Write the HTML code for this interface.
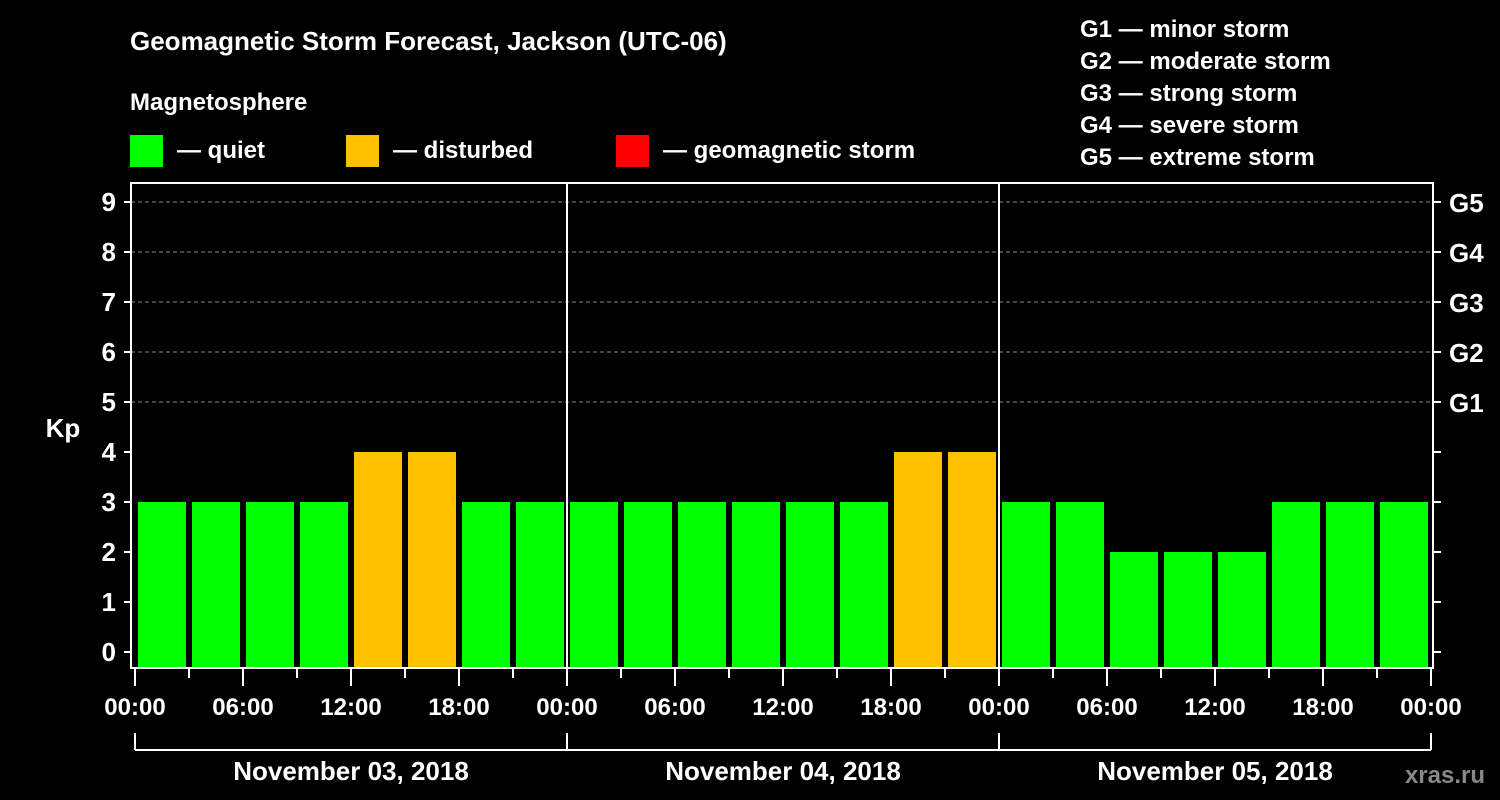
<!DOCTYPE html>
<html><head><meta charset="utf-8"><style>
body{margin:0;background:#000;width:1500px;height:800px;overflow:hidden}
svg{display:block;font-family:"Liberation Sans",Arial,sans-serif;font-weight:bold}
</style></head><body>
<svg id="c" width="1500" height="800" viewBox="0 0 1500 800">
<text x="130" y="50" fill="#fff" font-size="26">Geomagnetic Storm Forecast, Jackson (UTC-06)</text>
<text x="130" y="110" fill="#fff" font-size="24">Magnetosphere</text>
<rect x="130" y="135" width="33" height="32" fill="#00ff00"/>
<text x="177" y="158" fill="#fff" font-size="24">— quiet</text>
<rect x="346" y="135" width="33" height="32" fill="#ffc000"/>
<text x="393" y="158" fill="#fff" font-size="24">— disturbed</text>
<rect x="616" y="135" width="33" height="32" fill="#ff0000"/>
<text x="663" y="158" fill="#fff" font-size="24">— geomagnetic storm</text>
<g fill="#fff" font-size="24">
<text x="1080" y="37">G1 — minor storm</text>
<text x="1080" y="69">G2 — moderate storm</text>
<text x="1080" y="101">G3 — strong storm</text>
<text x="1080" y="133">G4 — severe storm</text>
<text x="1080" y="165">G5 — extreme storm</text>
</g>
<text x="63" y="437" fill="#fff" font-size="26" text-anchor="middle">Kp</text>
<text x="1485" y="783" fill="#888" font-size="24" text-anchor="end">xras.ru</text>
<g id="grid"></g><g id="bars"></g><g id="axes"></g>
</svg>
<script>
const kpValues=[3,3,3,3,4,4,3,3, 3,3,3,3,3,3,4,4, 3,3,2,2,2,3,3,3];
const dayLabels=["November 03, 2018","November 04, 2018","November 05, 2018"];
const hourLabels=["00:00","06:00","12:00","18:00"];
const gLabels=["G1","G2","G3","G4","G5"];
const yTicks=[0,1,2,3,4,5,6,7,8,9];
const NS="http://www.w3.org/2000/svg";
const X0=135,DAY=432,SLOT=DAY/8;
const yS=v=>652-50*v;
const xS=i=>X0+i*SLOT;
function mk(p,t,a){const e=document.createElementNS(NS,t);for(const k in a)e.setAttribute(k,a[k]);p.appendChild(e);return e;}
const g=document.getElementById('grid'),b=document.getElementById('bars'),ax=document.getElementById('axes');
for(let v=5;v<=9;v++){const l=mk(g,'line',{x1:131,x2:1433,y1:yS(v),y2:yS(v),stroke:'#888','stroke-dasharray':'4,3','stroke-width':1});

}
kpValues.forEach((v,i)=>{const col=v>=5?'#ff0000':v>=4?'#ffc000':'#00ff00';
const r=mk(b,'rect',{x:xS(i)+3,y:yS(v),width:SLOT-6,height:667-yS(v),fill:col});

});
mk(ax,'rect',{x:131,y:183,width:1302,height:485,fill:'none',stroke:'#fff','stroke-width':2});
[1,2].forEach(d=>{const l=mk(ax,'line',{x1:X0+d*DAY,x2:X0+d*DAY,y1:183,y2:668,stroke:'#fff','stroke-width':2});

});
yTicks.forEach(v=>{mk(ax,'line',{x1:124,x2:131,y1:yS(v),y2:yS(v),stroke:'#fff','stroke-width':2});
mk(ax,'line',{x1:1433,x2:1441,y1:yS(v),y2:yS(v),stroke:'#fff','stroke-width':2});
const t=mk(ax,'text',{x:116,y:yS(v)+9,fill:'#fff','font-size':26,'text-anchor':'end'});t.textContent=v;

});
gLabels.forEach((s,k)=>{const t=mk(ax,'text',{x:1449,y:yS(5+k)+10,fill:'#fff','font-size':26});t.textContent=s;

});
for(let i=0;i<=24;i++){const x=xS(i),major=i%2===0;
mk(ax,'line',{x1:x,x2:x,y1:669,y2:major?686:678,stroke:'#fff','stroke-width':2});
if(major){const t=mk(ax,'text',{x:x,y:715,fill:'#fff','font-size':24,'text-anchor':'middle'});t.textContent=i===24?hourLabels[0]:hourLabels[(i/2)%4];

}}
mk(ax,'line',{x1:X0,x2:X0+3*DAY,y1:750,y2:750,stroke:'#fff','stroke-width':2});
for(let d=0;d<=3;d++)mk(ax,'line',{x1:X0+d*DAY,x2:X0+d*DAY,y1:733,y2:750,stroke:'#fff','stroke-width':2});
dayLabels.forEach((s,d)=>{const t=mk(ax,'text',{x:X0+d*DAY+DAY/2,y:780,fill:'#fff','font-size':26,'text-anchor':'middle'});t.textContent=s;

});
</script>
</body></html>
